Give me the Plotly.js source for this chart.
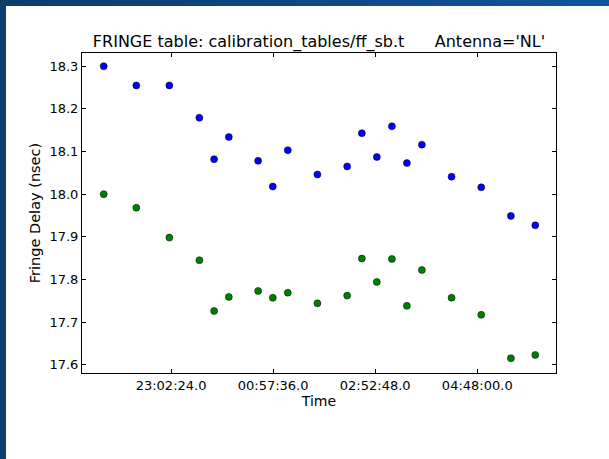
<!DOCTYPE html>
<html>
<head>
<meta charset="utf-8">
<script src="https://cdn.plot.ly/plotly-3.0.1.min.js"></script>
<style>
  html, body { margin: 0; padding: 0; background: #ffffff; }
  #frame {
    position: relative; width: 609px; height: 459px; overflow: hidden; background: #ffffff;
  }
  #topbar {
    position: absolute; left: 0; top: 0; width: 609px; height: 6px;
    background: linear-gradient(to right, #0b3b6b, #0f4a88 60%, #1253a0);
  }
  #leftbar {
    position: absolute; left: 0; top: 0; width: 6px; height: 459px;
    background: #0b3d6d;
  }
  #chart { position: absolute; left: 0; top: 0; width: 609px; height: 459px; }
</style>
</head>
<body>
<div id="frame">
  <div id="chart"></div>
  <div id="topbar"></div>
  <div id="leftbar"></div>
</div>
<script>
// Solution times (scans run past midnight into the next day)
const times = [
  '2000-01-01 21:46:24', '2000-01-01 22:23:10', '2000-01-01 23:00:30',
  '2000-01-01 23:34:20', '2000-01-01 23:51:00', '2000-01-02 00:07:35',
  '2000-01-02 00:40:40', '2000-01-02 00:57:15', '2000-01-02 01:14:10',
  '2000-01-02 01:47:35', '2000-01-02 02:21:10', '2000-01-02 02:37:45',
  '2000-01-02 02:54:40', '2000-01-02 03:11:40', '2000-01-02 03:28:35',
  '2000-01-02 03:45:30', '2000-01-02 04:19:00', '2000-01-02 04:52:30',
  '2000-01-02 05:26:00', '2000-01-02 05:53:30'
];

// Fringe delay per polarisation (nsec)
const delayPol1 = [
  18.300, 18.255, 18.255, 18.179, 18.082, 18.134, 18.078, 18.018, 18.103, 18.046,
  18.065, 18.143, 18.087, 18.159, 18.073, 18.116, 18.041, 18.016, 17.949, 17.927
];
const delayPol2 = [
  18.000, 17.968, 17.898, 17.845, 17.726, 17.759, 17.773, 17.757, 17.769, 17.744,
  17.762, 17.849, 17.794, 17.848, 17.738, 17.822, 17.757, 17.717, 17.615, 17.623
];

// Axis ticks
const xTickVals = ['2000-01-01 23:02:24', '2000-01-02 00:57:36', '2000-01-02 02:52:48', '2000-01-02 04:48:00'];
const xTickText = ['23:02:24.0', '00:57:36.0', '02:52:48.0', '04:48:00.0'];
const yTickVals = [17.6, 17.7, 17.8, 17.9, 18.0, 18.1, 18.2, 18.3];
const yTickText = ['17.6', '17.7', '17.8', '17.9', '18.0', '18.1', '18.2', '18.3'];

const font = 'DejaVu Sans, sans-serif';

function series(y, color) {
  return {
    x: times, y: y, type: 'scatter', mode: 'markers', showlegend: false,
    hoverinfo: 'skip',
    marker: { color: color, size: 7, line: { color: '#000000', width: 0.5 } }
  };
}

const axisCommon = {
  showline: true, linecolor: '#000000', linewidth: 1, mirror: 'ticks',
  ticks: 'inside', ticklen: 4, tickcolor: '#000000', tickwidth: 1,
  showgrid: false, zeroline: false,
  tickfont: { family: font, size: 13, color: '#000000' }
};

const layout = {
  width: 609, height: 459,
  paper_bgcolor: 'rgba(0,0,0,0)', plot_bgcolor: '#ffffff',
  margin: { l: 82, r: 53, t: 53, b: 86 },
  title: {
    text: 'FRINGE table: calibration_tables/ff_sb.t\u00a0\u00a0\u00a0\u00a0\u00a0\u00a0Antenna=\'NL\'',
    font: { family: font, size: 16, color: '#000000' },
    x: 0.5, xref: 'paper', xanchor: 'center',
    y: 1, yref: 'paper', yanchor: 'bottom', pad: { b: 6 }
  },
  xaxis: Object.assign({}, axisCommon, {
    type: 'date',
    range: ['2000-01-01 21:21:53', '2000-01-02 06:16:53'],
    tickmode: 'array', tickvals: xTickVals, ticktext: xTickText,
    title: { text: 'Time', font: { family: font, size: 14, color: '#000000' }, standoff: 0 }
  }),
  yaxis: Object.assign({}, axisCommon, {
    range: [17.5805, 18.331],
    tickmode: 'array', tickvals: yTickVals, ticktext: yTickText,
    title: { text: 'Fringe Delay (nsec)', font: { family: font, size: 14.5, color: '#000000' }, standoff: 5 }
  })
};

Plotly.newPlot('chart', [series(delayPol1, '#0000ff'), series(delayPol2, '#008000')], layout,
  { staticPlot: true, displayModeBar: false });
</script>
</body>
</html>
